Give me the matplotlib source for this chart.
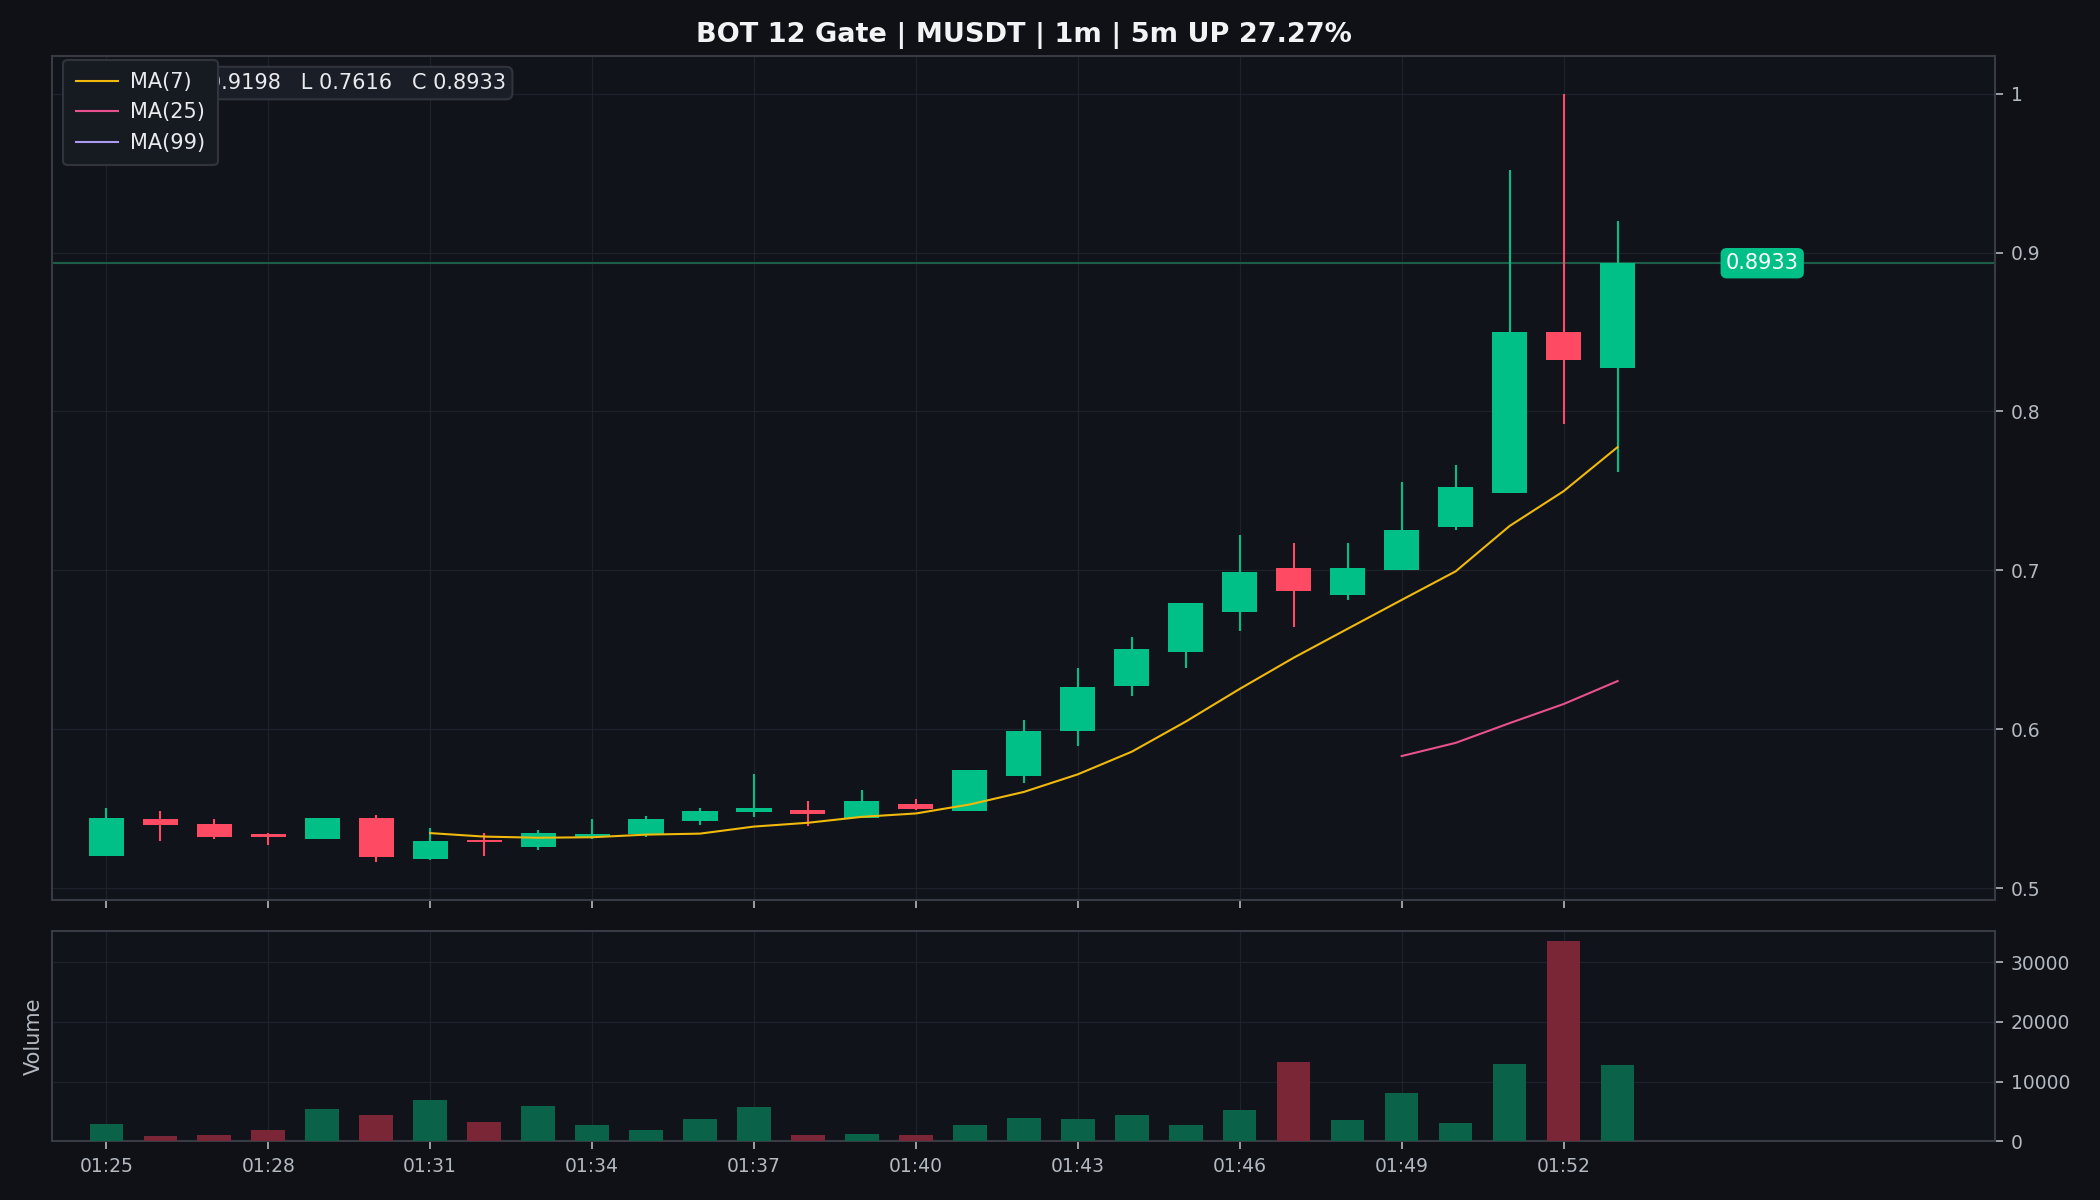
import matplotlib

matplotlib.use("Agg")
import matplotlib.pyplot as plt  # noqa: E402
import matplotlib.transforms as mtransforms  # noqa: E402
import numpy as np  # noqa: E402
import pandas as pd  # noqa: E402

# --- data (1m candles) ---
times = [
    "01:25", "01:26", "01:27", "01:28", "01:29", "01:30", "01:31", "01:32",
    "01:33", "01:34", "01:35", "01:36", "01:37", "01:38", "01:39", "01:40",
    "01:41", "01:42", "01:43", "01:44", "01:45", "01:46", "01:47", "01:48",
    "01:49", "01:50", "01:51", "01:52", "01:53",
]
opens = [
    0.5202, 0.5437, 0.5406, 0.5338, 0.5309, 0.5444, 0.5183, 0.5305,
    0.5258, 0.5321, 0.5343, 0.5425, 0.5481, 0.5490, 0.5444, 0.5532,
    0.5485, 0.5704, 0.5990, 0.6272, 0.6487, 0.6738, 0.7017, 0.6848,
    0.7005, 0.7275, 0.7489, 0.8503, 0.8275,
]
highs = [
    0.5507, 0.5483, 0.5437, 0.5349, 0.5444, 0.5463, 0.5381, 0.5349,
    0.5364, 0.5433, 0.5456, 0.5507, 0.5716, 0.5546, 0.5616, 0.5559,
    0.5741, 0.6056, 0.6384, 0.6579, 0.6794, 0.7221, 0.7170, 0.7174,
    0.7554, 0.7662, 0.9517, 0.9997, 0.9198,
]
lows = [
    0.5202, 0.5296, 0.5309, 0.5271, 0.5309, 0.5164, 0.5177, 0.5202,
    0.5242, 0.5307, 0.5322, 0.5395, 0.5447, 0.5391, 0.5444, 0.5490,
    0.5485, 0.5662, 0.5893, 0.6207, 0.6386, 0.6619, 0.6641, 0.6815,
    0.7005, 0.7257, 0.7489, 0.7923, 0.7616,
]
closes = [
    0.5444, 0.5399, 0.5322, 0.5322, 0.5444, 0.5196, 0.5299, 0.5290,
    0.5349, 0.5343, 0.5437, 0.5488, 0.5507, 0.5467, 0.5551, 0.5498,
    0.5741, 0.5987, 0.6264, 0.6504, 0.6794, 0.6991, 0.6871, 0.7017,
    0.7257, 0.7523, 0.8503, 0.8326, 0.8933,
]
volumes = [
    2960, 950, 1100, 1950, 5470, 4460, 6970, 3290,
    5970, 2790, 1950, 3790, 5800, 1100, 1280, 1100,
    2800, 4000, 3800, 4500, 2800, 5300, 13300, 3600,
    8150, 3100, 13000, 33570, 12830,
]

TITLE = "BOT 12 Gate | MUSDT | 1m | 5m UP 27.27%"

BG = "#0f1117"
AX_BG = "#10131a"
UP = "#00c087"
DOWN = "#ff4a63"
GRID = "#1e222b"
SPINE = "#383b44"
TXT = "#b4b8c0"

df = pd.DataFrame(
    {"time": times, "open": opens, "high": highs, "low": lows, "close": closes, "volume": volumes}
)
x = np.arange(len(df))
up = df["close"] >= df["open"]
colors = np.where(up, UP, DOWN)

ma7 = df["close"].rolling(7).mean()
ma25 = df["close"].rolling(25).mean()
ma99 = df["close"].rolling(99).mean()

fig = plt.figure(figsize=(14, 8), dpi=150, facecolor=BG)
ax = fig.add_axes([0.0249, 0.2498, 0.9253, 0.7034])
axv = fig.add_axes([0.0249, 0.0488, 0.9253, 0.1755], sharex=ax)

for a in (ax, axv):
    a.set_facecolor(AX_BG)
    for s in a.spines.values():
        s.set_color(SPINE)
        s.set_linewidth(1.0)
    a.yaxis.tick_right()
    a.tick_params(colors=TXT, labelsize=9, length=4, width=0.8)
    a.grid(True, color=GRID, linewidth=0.6)
    a.set_axisbelow(True)

# candles
ax.vlines(x, df["low"], df["high"], color=colors, linewidth=1.0, zorder=2)
body_lo = np.minimum(df["open"], df["close"])
body_h = np.maximum((df["close"] - df["open"]).abs(), 0.0008)
ax.bar(x, body_h, bottom=body_lo, width=0.65, color=colors, linewidth=0, zorder=3)

ax.plot(x, ma7, color="#f0b90b", linewidth=1.0, label="MA(7)", zorder=4)
ax.plot(x, ma25, color="#e8508e", linewidth=1.0, label="MA(25)", zorder=4)
ax.plot(x, ma99, color="#a99cf0", linewidth=1.0, label="MA(99)", zorder=4)

last = df.iloc[-1]
ax.axhline(last["close"], color="#1d5c48", linewidth=1.0, zorder=1)
trans = mtransforms.blended_transform_factory(ax.transAxes, ax.transData)
ax.text(
    0.88, last["close"], f"{last['close']:.4f}", transform=trans,
    ha="center", va="center", color="white", fontsize=10,
    bbox=dict(boxstyle="round,pad=0.25,rounding_size=0.3", facecolor=UP, edgecolor="none"),
    zorder=6,
)

ax.text(
    0.0092, 0.980,
    f"O {last['open']:.4f}   H {last['high']:.4f}   L {last['low']:.4f}   C {last['close']:.4f}",
    transform=ax.transAxes, ha="left", va="top", color="#e8eaed", fontsize=10,
    bbox=dict(boxstyle="round,pad=0.3,rounding_size=0.3", facecolor="#1a1e26", edgecolor="#30343c"),
    zorder=5,
)

leg = ax.legend(
    loc="upper left", bbox_to_anchor=(0.0057, 0.996), borderaxespad=0, fontsize=10,
    frameon=True, facecolor="#161a21", edgecolor="#30343c", labelcolor="#e8eaed",
    handlelength=2.0, handletextpad=0.6, borderpad=0.6, labelspacing=0.5, framealpha=1.0,
)
leg.set_zorder(7)

ax.set_ylim(0.4924, 1.0236)
ax.set_yticks([0.5, 0.6, 0.7, 0.8, 0.9, 1.0])
ax.set_yticklabels(["0.5", "0.6", "0.7", "0.8", "0.9", "1"])
ax.set_xlim(-1, 35)
tick_pos = x[::3]
ax.set_xticks(tick_pos)
plt.setp(ax.get_xticklabels(), visible=False)
ax.set_title(TITLE, color="#f2f3f5", fontsize=13, fontweight="bold", pad=6.7)

# volume
vol_colors = np.where(up, "#0a6349", "#7a2636")
axv.bar(x, df["volume"], width=0.62, color=vol_colors, linewidth=0, zorder=3)
axv.set_ylim(0, df["volume"].max() * 1.05)
axv.set_yticks([0, 10000, 20000, 30000])
axv.set_yticklabels(["0", "10000", "20000", "30000"])
axv.set_xticks(tick_pos)
axv.set_xticklabels([times[i] for i in tick_pos])
axv.set_ylabel("Volume", color=TXT, fontsize=10, labelpad=4)
axv.yaxis.set_label_position("left")

fig.savefig("out.png", dpi=150, facecolor=BG)
